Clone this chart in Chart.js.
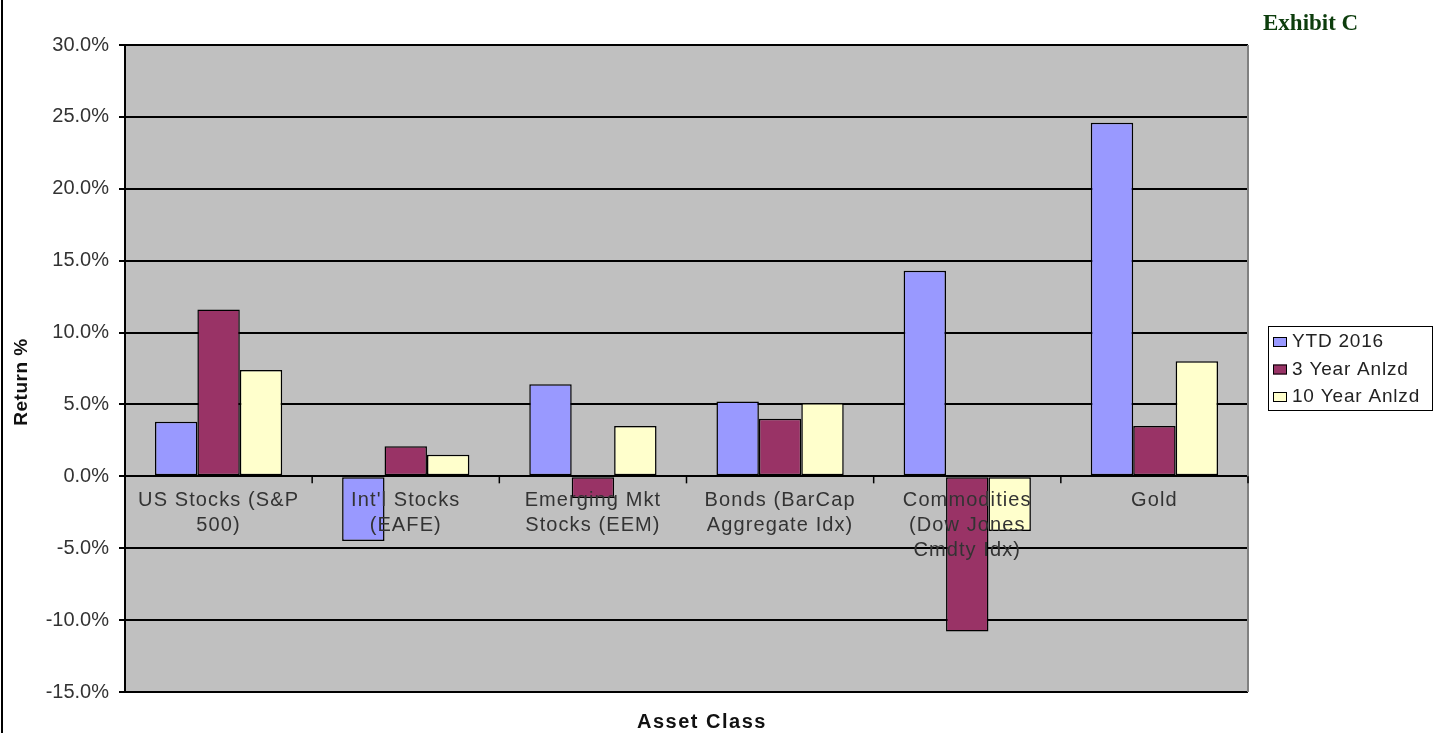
<!DOCTYPE html>
<html>
<head>
<meta charset="utf-8">
<script src="https://cdn.jsdelivr.net/npm/chart.js@4.4.1/dist/chart.umd.min.js"></script>
<style>
  html, body { margin: 0; padding: 0; background: #fff; }
  #wrap { width: 1434px; height: 733px; position: relative; }
</style>
</head>
<body>
<div id="wrap"><canvas id="chart"></canvas></div>
<script>
// asset classes (multi-line labels as on the chart)
const assetClasses = [
    ['US Stocks (S&P', '500)'],
    ["Int'l Stocks", '(EAFE)'],
    ['Emerging Mkt', 'Stocks (EEM)'],
    ['Bonds (BarCap', 'Aggregate Idx)'],
    ['Commodities', '(Dow Jones', 'Cmdty Idx)'],
    ['Gold']
];
const seriesNames = ['YTD 2016', '3 Year Anlzd', '10 Year Anlzd'];
const ytd2016 = [3.8, -4.5, 6.4, 5.2, 14.3, 24.6];
const threeYear = [11.6, 2.1, -1.5, 4.0, -10.8, 3.5];
const tenYear = [7.4, 1.5, 3.5, 5.1, -3.8, 8.0];
const yTicks = { min: -15, max: 30, step: 5 };

const barColors = ['#9999ff', '#993366', '#ffffcc'];
const txtFont = '"Liberation Sans", Arial, sans-serif';

// draws axis text, category labels, legend box and the frame bits
const decorPlugin = {
    id: 'decor',
    beforeDraw(chart) {
        const ctx = chart.ctx;
        ctx.save();
        ctx.fillStyle = '#fff';
        ctx.fillRect(0, 0, chart.width, chart.height);
        ctx.strokeStyle = '#000';
        ctx.lineWidth = 2;
        ctx.beginPath();
        ctx.moveTo(2, 0);
        ctx.lineTo(2, chart.height);
        ctx.stroke();
        const a = chart.chartArea;
        ctx.fillStyle = '#c0c0c0';
        ctx.fillRect(a.left, a.top, a.right - a.left, a.bottom - a.top);
        ctx.restore();
    },
    afterDatasetsDraw(chart) {
        const ctx = chart.ctx;
        const xs = chart.scales.x, ys = chart.scales.y;
        const a = chart.chartArea;
        const y0 = ys.getPixelForValue(0);
        ctx.save();

        // right edge of plot
        ctx.strokeStyle = '#808080';
        ctx.lineWidth = 2;
        ctx.beginPath();
        ctx.moveTo(a.right, a.top);
        ctx.lineTo(a.right, a.bottom);
        ctx.stroke();

        // category tick marks on zero line
        ctx.strokeStyle = '#000';
        ctx.lineWidth = 1.5;
        const n = assetClasses.length;
        const w = (xs.getPixelForValue(1) - xs.getPixelForValue(0));
        for (let i = 0; i <= n; i++) {
            const x = xs.getPixelForValue(0) - w / 2 + i * w;
            ctx.beginPath();
            ctx.moveTo(x, y0);
            ctx.lineTo(x, y0 + 7);
            ctx.stroke();
        }

        // category labels
        ctx.fillStyle = '#333';
        ctx.font = '20px ' + txtFont;
        ctx.letterSpacing = '1.1px';
        ctx.textAlign = 'center';
        ctx.textBaseline = 'top';
        assetClasses.forEach((lines, i) => {
            const x = xs.getPixelForValue(i);
            lines.forEach((ln, j) => ctx.fillText(ln, x, y0 + 14 + j * 25));
        });

        // axis titles
        ctx.fillStyle = '#111';
        ctx.font = 'bold 20px ' + txtFont;
        ctx.letterSpacing = '1.5px';
        ctx.textBaseline = 'middle';
        ctx.fillText('Asset Class', 702, 722);
        ctx.save();
        ctx.translate(22, 382);
        ctx.rotate(-Math.PI / 2);
        ctx.font = 'bold 19px ' + txtFont;
        ctx.letterSpacing = '0.5px';
        ctx.fillText('Return %', 0, 0);
        ctx.restore();

        // exhibit label
        ctx.letterSpacing = '0px';
        ctx.fillStyle = '#0d3d0d';
        ctx.font = 'bold 23px "Liberation Serif", "Times New Roman", serif';
        ctx.textAlign = 'left';
        ctx.textBaseline = 'alphabetic';
        ctx.fillText('Exhibit C', 1263, 30);

        // legend
        ctx.fillStyle = '#fff';
        ctx.fillRect(1268, 326, 165, 85);
        ctx.strokeStyle = '#000';
        ctx.lineWidth = 1;
        ctx.strokeRect(1268.5, 326.5, 164, 84);
        ctx.font = '19px ' + txtFont;
        ctx.letterSpacing = '0.8px';
        ctx.textBaseline = 'middle';
        seriesNames.forEach((name, i) => {
            const cy = 342 + i * 27.5;
            ctx.fillStyle = barColors[i];
            ctx.fillRect(1273, cy - 5, 14, 10);
            ctx.strokeStyle = '#000';
            ctx.strokeRect(1273.5, cy - 4.5, 13, 9);
            ctx.fillStyle = '#222';
            ctx.fillText(name, 1292, cy);
        });
        ctx.restore();
    }
};

const seriesData = [ytd2016, threeYear, tenYear];

new Chart(document.getElementById('chart'), {
    type: 'bar',
    data: {
        labels: assetClasses.map(l => l.join(' ')),
        datasets: seriesNames.map((name, i) => ({
            label: name,
            data: seriesData[i],
            backgroundColor: barColors[i],
            borderColor: '#000',
            borderWidth: 1.5,
            borderSkipped: false,
            categoryPercentage: 0.68,
            barPercentage: 1
        }))
    },
    options: {
        responsive: true,
        maintainAspectRatio: false,
        animation: false,
        layout: { padding: { left: 0, top: 45, right: 186, bottom: 41 } },
        plugins: {
            legend: { display: false },
            tooltip: { enabled: false }
        },
        scales: {
            x: {
                grid: { display: false },
                border: { display: false },
                ticks: { display: false },
                afterFit(scale) { scale.height = 0; }
            },
            y: {
                min: yTicks.min,
                max: yTicks.max,
                ticks: {
                    stepSize: yTicks.step,
                    padding: 10,
                    color: '#333',
                    font: { family: txtFont, size: 20 },
                    callback: v => v.toFixed(1) + '%'
                },
                grid: { color: '#000', lineWidth: 2, tickLength: 6, drawTicks: true },
                border: { color: '#000', width: 2 },
                afterFit(scale) { scale.width = 125; }
            }
        }
    },
    plugins: [decorPlugin]
});
</script>
</body>
</html>
